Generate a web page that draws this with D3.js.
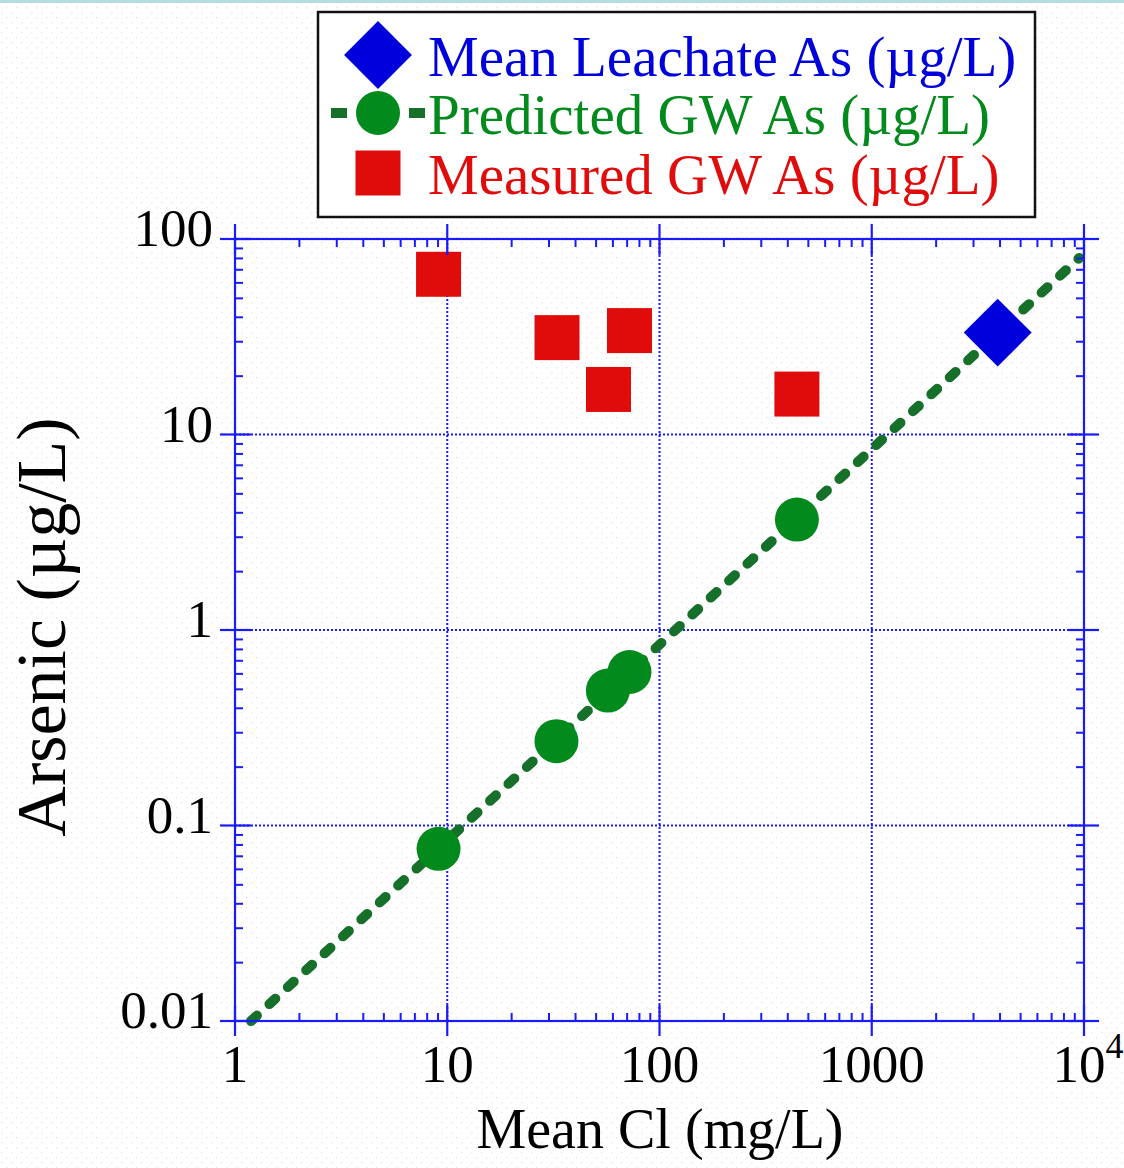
<!DOCTYPE html>
<html>
<head>
<meta charset="utf-8">
<script src="https://d3js.org/d3.v7.min.js"></script>
<style>
  body { margin: 0; background: #fff; }
  svg text { font-family: "Liberation Serif", "Times New Roman", serif; }
</style>
</head>
<body>
<script>
// data
var measuredCl = [9.1, 32.9, 72.2, 57.5, 444];
var measuredAs = [66, 31.3, 34, 17, 16.1];

var predictedCl = [9.1, 32.7, 57.1, 72.2, 444];
var predictedAs = [0.076, 0.27, 0.49, 0.61, 3.67];

var leachateCl = [3920];
var leachateAs = [33.2];

// fitted dashed line (As proportional to Cl)
var fitCl = [1.19, 9500];
var fitAs = [0.01, 80];

var xMajor = [1, 10, 100, 1000, 10000];
var xLabels = ["1", "10", "100", "1000", "10"];
var yMajor = [0.01, 0.1, 1, 10, 100];
var yLabels = ["0.01", "0.1", "1", "10", "100"];

var legendNames = ["Mean Leachate As (µg/L)", "Predicted GW As (µg/L)", "Measured GW As (µg/L)"];

var W = 1124, H = 1168;
var axisColor = "#1a1aff",
    blue = "#0000dc",
    green = "#028a1c",
    lineGreen = "#16702a",
    red = "#e00c0c";

var svg = d3.select("body").append("svg")
    .attr("width", W)
    .attr("height", H);

//faint dotted paper texture
var defs = svg.append("defs");
var pat = defs.append("pattern")
    .attr("id", "paper")
    .attr("width", 10)
    .attr("height", 10)
    .attr("patternUnits", "userSpaceOnUse");
pat.append("rect").attr("x", 1).attr("y", 2).attr("width", 1.5).attr("height", 1.5).attr("fill", "#f3e4ea");
pat.append("rect").attr("x", 6).attr("y", 7).attr("width", 1.5).attr("height", 1.5).attr("fill", "#e6e6f6");
svg.append("rect").attr("width", W).attr("height", H).attr("fill", "url(#paper)");
svg.append("rect").attr("width", W).attr("height", 3).attr("fill", "#b6dde2");

var x = d3.scaleLog().domain([1, 10000]).range([235, 1084]);
var y = d3.scaleLog().domain([0.01, 100]).range([1021, 239]);

var x0 = x.range()[0], x1 = x.range()[1];
var y0 = y.range()[0], y1 = y.range()[1];

// minor tick values
var xMinor = [], yMinor = [];
xMajor.slice(0, -1).forEach(function (d) {
    for (var k = 2; k < 10; k++) xMinor.push(d * k);
});
yMajor.slice(0, -1).forEach(function (d) {
    for (var k = 2; k < 10; k++) yMinor.push(d * k);
});

var plot = svg.append("g");

// dotted grid at decades
plot.selectAll(".gx")
    .data(xMajor.slice(1, -1))
    .join("line")
    .attr("x1", d => x(d)).attr("x2", d => x(d))
    .attr("y1", y1).attr("y2", y0)
    .attr("stroke", axisColor)
    .attr("stroke-width", 2)
    .attr("stroke-dasharray", "2,2");
plot.selectAll(".gy")
    .data(yMajor.slice(1, -1))
    .join("line")
    .attr("y1", d => y(d)).attr("y2", d => y(d))
    .attr("x1", x0).attr("x2", x1)
    .attr("stroke", axisColor)
    .attr("stroke-width", 2)
    .attr("stroke-dasharray", "2,2");

// minor ticks with d3 axes (inward)
function minorAxis(axis, tr) {
    var g = svg.append("g")
        .attr("transform", tr)
        .call(axis.tickSizeInner(-8).tickSizeOuter(0).tickFormat(""));
    g.select(".domain").remove();
    g.selectAll("line").attr("stroke", axisColor).attr("stroke-width", 2);
}
minorAxis(d3.axisBottom(x).tickValues(xMinor), "translate(0," + y0 + ")");
minorAxis(d3.axisTop(x).tickValues(xMinor), "translate(0," + y1 + ")");
minorAxis(d3.axisLeft(y).tickValues(yMinor), "translate(" + x0 + ",0)");
minorAxis(d3.axisRight(y).tickValues(yMinor), "translate(" + x1 + ",0)");

// frame
svg.append("rect")
    .attr("x", x0).attr("y", y1)
    .attr("width", x1 - x0).attr("height", y0 - y1)
    .attr("fill", "none")
    .attr("stroke", axisColor)
    .attr("stroke-width", 2.2);

// major ticks cross the frame lines
var majorOut = 15, majorIn = 16;
var ticks = svg.append("g").attr("stroke", axisColor).attr("stroke-width", 2.2);
xMajor.forEach(function (d) {
    ticks.append("line").attr("x1", x(d)).attr("x2", x(d))
        .attr("y1", y0 - majorIn).attr("y2", y0 + majorOut);
    ticks.append("line").attr("x1", x(d)).attr("x2", x(d))
        .attr("y1", y1 - majorOut).attr("y2", y1 + majorIn);
});
yMajor.forEach(function (d) {
    ticks.append("line").attr("y1", y(d)).attr("y2", y(d))
        .attr("x1", x0 - majorOut).attr("x2", x0 + majorIn);
    ticks.append("line").attr("y1", y(d)).attr("y2", y(d))
        .attr("x1", x1 - majorIn).attr("x2", x1 + majorOut);
});

// tick labels
var xl = svg.append("g").attr("font-size", 53).attr("fill", "#000");
xMajor.forEach(function (d, i) {
    var t = xl.append("text")
        .attr("x", x(d) + (i == 4 ? 4 : 0))
        .attr("y", 1082)
        .attr("text-anchor", "middle")
        .text(xLabels[i]);
    if (i == 4) {
        t.append("tspan").attr("font-size", 36).attr("dy", -24).text("4");
    }
});
yMajor.forEach(function (d, i) {
    xl.append("text")
        .attr("x", 213)
        .attr("y", y(d) + 7)
        .attr("text-anchor", "end")
        .text(yLabels[i]);
});

// axis titles
svg.append("text")
    .attr("x", 660).attr("y", 1148)
    .attr("text-anchor", "middle")
    .attr("font-size", 56)
    .text("Mean Cl (mg/L)");
svg.append("text")
    .attr("transform", "translate(65,627) rotate(-90)")
    .attr("text-anchor", "middle")
    .attr("font-size", 70)
    .text("Arsenic (µg/L)");

// dashed prediction line
var line = d3.line().x(d => x(d[0])).y(d => y(d[1]));
plot.append("path")
    .datum(d3.zip(fitCl, fitAs))
    .attr("d", line)
    .attr("fill", "none")
    .attr("stroke", lineGreen)
    .attr("stroke-width", 10)
    .attr("stroke-linecap", "round")
    .attr("stroke-dasharray", "8,17");

// predicted circles
plot.selectAll(".pred")
    .data(d3.zip(predictedCl, predictedAs))
    .join("circle")
    .attr("cx", d => x(d[0]))
    .attr("cy", d => y(d[1]))
    .attr("r", 22)
    .attr("fill", green);

// measured squares
var sq = 45;
plot.selectAll(".meas")
    .data(d3.zip(measuredCl, measuredAs))
    .join("rect")
    .attr("x", d => x(d[0]) - sq / 2)
    .attr("y", d => y(d[1]) - sq / 2)
    .attr("width", sq).attr("height", sq)
    .attr("fill", red);

// leachate diamond
var dia = d3.symbol().type(d3.symbolSquare).size(48 * 48);
plot.selectAll(".leach")
    .data(d3.zip(leachateCl, leachateAs))
    .join("path")
    .attr("d", dia)
    .attr("transform", d => "translate(" + x(d[0]) + "," + y(d[1]) + ") rotate(45)")
    .attr("fill", blue);

// legend
var lg = svg.append("g");
lg.append("rect")
    .attr("x", 318).attr("y", 12)
    .attr("width", 717).attr("height", 205)
    .attr("fill", "#fff")
    .attr("stroke", "#111")
    .attr("stroke-width", 2.5);
var rowY = [55, 113, 173];
var colors = [blue, green, red];
lg.append("path")
    .attr("d", d3.symbol().type(d3.symbolSquare).size(48 * 48))
    .attr("transform", "translate(378," + rowY[0] + ") rotate(45)")
    .attr("fill", blue);
lg.append("line")
    .attr("x1", 331).attr("x2", 425)
    .attr("y1", rowY[1]).attr("y2", rowY[1])
    .attr("stroke", lineGreen)
    .attr("stroke-width", 10)
    .attr("stroke-dasharray", "16,62");
lg.append("circle")
    .attr("cx", 378).attr("cy", rowY[1]).attr("r", 22)
    .attr("fill", green);
lg.append("rect")
    .attr("x", 378 - sq / 2).attr("y", rowY[2] - sq / 2)
    .attr("width", sq).attr("height", sq)
    .attr("fill", red);
legendNames.forEach(function (n, i) {
    lg.append("text")
        .attr("x", 428)
        .attr("y", rowY[i] + 21)
        .attr("font-size", 57)
        .attr("fill", colors[i])
        .text(n);
});
</script>
</body>
</html>
